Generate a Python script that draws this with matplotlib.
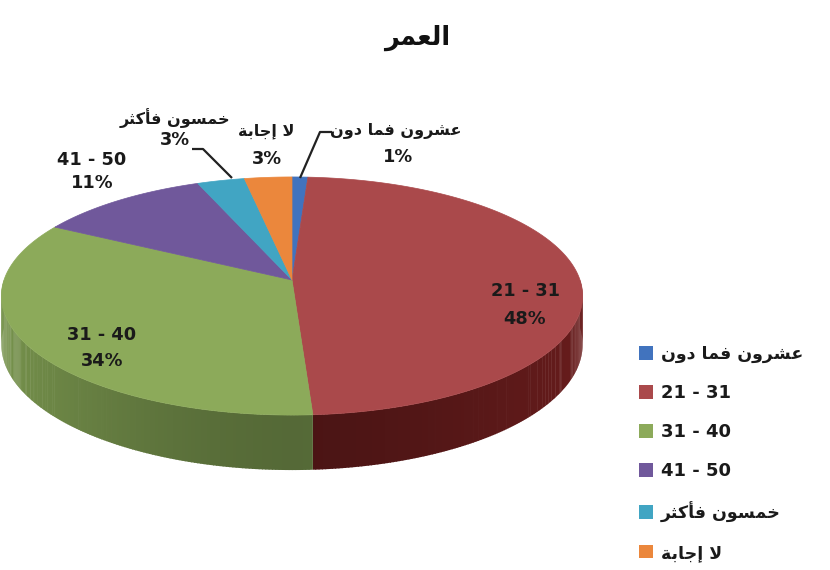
import numpy as np
import matplotlib
matplotlib.use("Agg")
import matplotlib.pyplot as plt
from matplotlib.patches import Polygon, Patch

# ---------------- data ----------------
title_text = "العمر"
categories = ["عشرون فما دون", "21 - 31", "31 - 40", "41 - 50", "خمسون فأكثر", "لا إجابة"]
values = [1, 48, 34, 11, 3, 3]
pct_labels = ["1%", "48%", "34%", "11%", "3%", "3%"]

top_colors = ["#4173BE", "#AA494B", "#8CAA5A", "#70589B", "#41A5C3", "#EB873C"]
side_colors = ["#2C5290", "#601A1A", "#6D8746", "#4E3C6C", "#2B7890", "#B0602A"]

# ---------------- minimal Arabic shaping (visual order) ----------------
FORMS = {
    'ا': (0xFE8D, 0xFE8E, None, None),
    'أ': (0xFE83, 0xFE84, None, None),
    'إ': (0xFE87, 0xFE88, None, None),
    'ب': (0xFE8F, 0xFE90, 0xFE91, 0xFE92),
    'ة': (0xFE93, 0xFE94, None, None),
    'ث': (0xFE99, 0xFE9A, 0xFE9B, 0xFE9C),
    'ج': (0xFE9D, 0xFE9E, 0xFE9F, 0xFEA0),
    'خ': (0xFEA5, 0xFEA6, 0xFEA7, 0xFEA8),
    'د': (0xFEA9, 0xFEAA, None, None),
    'ر': (0xFEAD, 0xFEAE, None, None),
    'س': (0xFEB1, 0xFEB2, 0xFEB3, 0xFEB4),
    'ش': (0xFEB5, 0xFEB6, 0xFEB7, 0xFEB8),
    'ع': (0xFEC9, 0xFECA, 0xFECB, 0xFECC),
    'ف': (0xFED1, 0xFED2, 0xFED3, 0xFED4),
    'ك': (0xFED9, 0xFEDA, 0xFEDB, 0xFEDC),
    'ل': (0xFEDD, 0xFEDE, 0xFEDF, 0xFEE0),
    'م': (0xFEE1, 0xFEE2, 0xFEE3, 0xFEE4),
    'ن': (0xFEE5, 0xFEE6, 0xFEE7, 0xFEE8),
    'و': (0xFEED, 0xFEEE, None, None),
}
LAM_ALEF = {'ا': (0xFEFB, 0xFEFC), 'أ': (0xFEF7, 0xFEF8), 'إ': (0xFEF9, 0xFEFA)}


def is_arabic(text):
    return any(c in FORMS for c in text)


def shape(text):
    if not is_arabic(text):
        return text
    toks = []
    i = 0
    while i < len(text):
        c = text[i]
        if c == 'ل' and i + 1 < len(text) and text[i + 1] in LAM_ALEF:
            toks.append(('LA', text[i + 1]))
            i += 2
        else:
            toks.append(('C', c))
            i += 1

    def joins_left(tok):
        kind, c = tok
        return kind == 'C' and c in FORMS and FORMS[c][2] is not None

    def is_ar(tok):
        kind, c = tok
        return kind == 'LA' or c in FORMS

    out = []
    for k, tok in enumerate(toks):
        kind, c = tok
        prev_j = k > 0 and joins_left(toks[k - 1])
        next_ar = k + 1 < len(toks) and is_ar(toks[k + 1])
        if kind == 'LA':
            iso, fin = LAM_ALEF[c]
            out.append(chr(fin if prev_j else iso))
        elif c in FORMS:
            iso, fin, ini, med = FORMS[c]
            can_next = ini is not None and next_ar
            if prev_j and can_next:
                out.append(chr(med))
            elif prev_j:
                out.append(chr(fin))
            elif can_next:
                out.append(chr(ini))
            else:
                out.append(chr(iso))
        else:
            out.append(c)
    return ''.join(reversed(out))


FAM = ['DejaVu Sans']
plt.rcParams['font.family'] = FAM

# ---------------- figure ----------------
fig = plt.figure(figsize=(8.3, 5.7), dpi=100)
ax = fig.add_axes([0, 0, 1, 1])
ax.set_xlim(0, 830)
ax.set_ylim(570, 0)
ax.axis('off')

# perspective 3-D pie geometry (pixels)
cx, cy0, R, Rk, D, p = 292, 280, 288, 116.9, 47.6, 0.1345


def proj(t, h=0.0):
    X, Z = np.sin(t), np.cos(t)
    s = 1.0 / (1.0 + p * Z)
    return cx + R * X * s, cy0 - Rk * Z * s + D * s * h


vals = np.array(values, dtype=float)
fr = vals / vals.sum()
starts = np.concatenate([[0], np.cumsum(fr)[:-1]]) * 2 * np.pi
ends = np.cumsum(fr) * 2 * np.pi

# side walls (front half)
for i in range(len(values)):
    a0 = max(starts[i], np.pi / 2)
    a1 = min(ends[i], 3 * np.pi / 2)
    if a1 <= a0:
        continue
    n = max(int((a1 - a0) / 0.01), 2)
    ts = np.linspace(a0, a1, n + 1)
    base = np.array(matplotlib.colors.to_rgb(side_colors[i]))
    for j in range(n):
        tt = np.linspace(ts[j], min(ts[j + 1] + 0.003, a1), 3)
        xs, ys = proj(tt)
        xb, yb = proj(tt[::-1], 1.0)
        f = 0.78 + 0.32 * abs(np.sin((ts[j] + ts[j + 1]) / 2)) ** 1.5
        col = np.clip(base * f, 0, 1)
        ax.add_patch(Polygon(np.column_stack([np.r_[xs, xb], np.r_[ys, yb]]),
                             closed=True, facecolor=col, edgecolor='none'))

# top faces
for i in range(len(values)):
    ts = np.linspace(starts[i], ends[i], max(int((ends[i] - starts[i]) / 0.005), 4))
    xs, ys = proj(ts)
    poly = np.column_stack([np.r_[cx, xs], np.r_[cy0, ys]])
    ax.add_patch(Polygon(poly, closed=True, facecolor=top_colors[i],
                         edgecolor=top_colors[i], linewidth=0.5))

# data labels: (name position, percent position)
name_pos = [(396, 131), (525, 291), (102, 335), (92, 160), (175, 118), (266, 131)]
pct_pos = [(398, 157), (525, 319), (102, 361), (92, 183), (175, 140), (267, 159)]
for i in range(len(values)):
    nm = categories[i]
    ax.text(name_pos[i][0], name_pos[i][1], shape(nm), ha='center', va='center',
            fontsize=11.5 if is_arabic(nm) else 12.8, fontweight='bold', color='#1a1a1a')
    ax.text(pct_pos[i][0], pct_pos[i][1], pct_labels[i], ha='center', va='center',
            fontsize=12.8, fontweight='bold', color='#1a1a1a')

# leader lines
ax.plot([332, 320, 300], [132, 132, 178], color='#222222', lw=1.6, solid_capstyle='butt')
ax.plot([192, 203, 232], [149, 149, 178], color='#222222', lw=1.6, solid_capstyle='butt')

# title
ax.text(417, 38, shape(title_text), ha='center', va='center', fontsize=18.5,
        fontweight='bold', color='#111111')

# legend
handles = [Patch(facecolor=top_colors[i], edgecolor='none') for i in range(len(values))]
leg = ax.legend(handles, [shape(c) for c in categories], loc='upper left',
                bbox_to_anchor=(639 / 830, 1 - 345 / 570), frameon=False,
                prop={'weight': 'bold', 'size': 13},
                handlelength=0.78, handleheight=0.78, handletextpad=0.45,
                labelspacing=1.17, borderpad=0, borderaxespad=0)
for t, c in zip(leg.get_texts(), categories):
    t.set_color('#1a1a1a')
    if is_arabic(c):
        t.set_fontsize(12.5)

fig.savefig('out.png', dpi=100)
